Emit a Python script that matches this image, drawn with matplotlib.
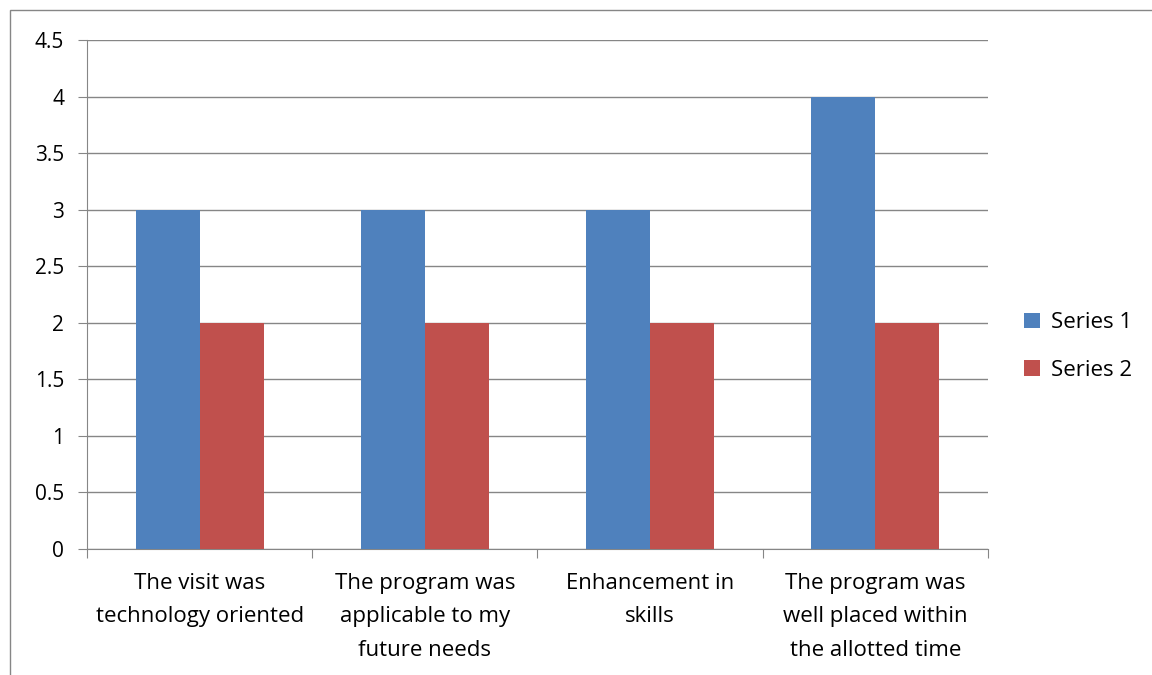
import numpy as np
import matplotlib.pyplot as plt
from matplotlib.patches import Rectangle
from matplotlib.ticker import MultipleLocator, FixedLocator, FuncFormatter

# Datos
categories = ['The visit was\ntechnology oriented',
              'The program was\napplicable to my\nfuture needs',
              'Enhancement in\nskills',
              'The program was\nwell placed within\nthe allotted time']
series1 = [3, 3, 3, 4]
series2 = [2, 2, 2, 2]
series_names = ['Series 1', 'Series 2']
colors = ['#4F81BD', '#C0504D']

plt.rcParams['font.family'] = ['Open Sans', 'DejaVu Sans']

fig = plt.figure(figsize=(11.52, 6.75), dpi=100)
ax = fig.add_axes([0.0755, 0.1867, 0.7821, 0.754])

x = np.arange(len(categories))
w = 0.284
ax.bar(x - w / 2, series1, w, color=colors[0], label=series_names[0], zorder=3)
ax.bar(x + w / 2, series2, w, color=colors[1], label=series_names[1], zorder=3)

ax.set_xlim(-0.5, len(categories) - 0.5)
ax.set_ylim(0, 4.5)
ax.yaxis.set_major_locator(MultipleLocator(0.5))
ax.yaxis.set_major_formatter(FuncFormatter(lambda v, p: f'{v:g}'))
ax.grid(axis='y', color='#868686', linewidth=1, zorder=0)

# etiquetas de categoria y marcas en los limites
ax.xaxis.set_major_locator(FixedLocator(np.arange(-0.5, len(categories), 1.0)))
ax.set_xticklabels([])
ax.tick_params(axis='x', length=6.5, color='#868686')
ax.tick_params(axis='y', length=6.5, color='#868686', labelsize=15, pad=10)
for i, c in enumerate(categories):
    ax.text(i, -0.21, c, ha='center', va='top', fontsize=16,
            transform=ax.transData, linespacing=1.78)

for side in ['top', 'right']:
    ax.spines[side].set_visible(False)
for side in ['left', 'bottom']:
    ax.spines[side].set_color('#868686')

ax.legend(loc='center left', bbox_to_anchor=(1.018, 0.398), frameon=False,
          fontsize=16, handlelength=0.7, handleheight=0.7, labelspacing=1.2,
          handletextpad=0.5)

# borde del area del grafico
fig.patches.append(Rectangle((10 / 1152, -0.1), 1.2, 1 - 10 / 675 + 0.1,
                             transform=fig.transFigure, fill=False,
                             edgecolor='#868686', linewidth=1))

fig.savefig('out.png', dpi=100)
